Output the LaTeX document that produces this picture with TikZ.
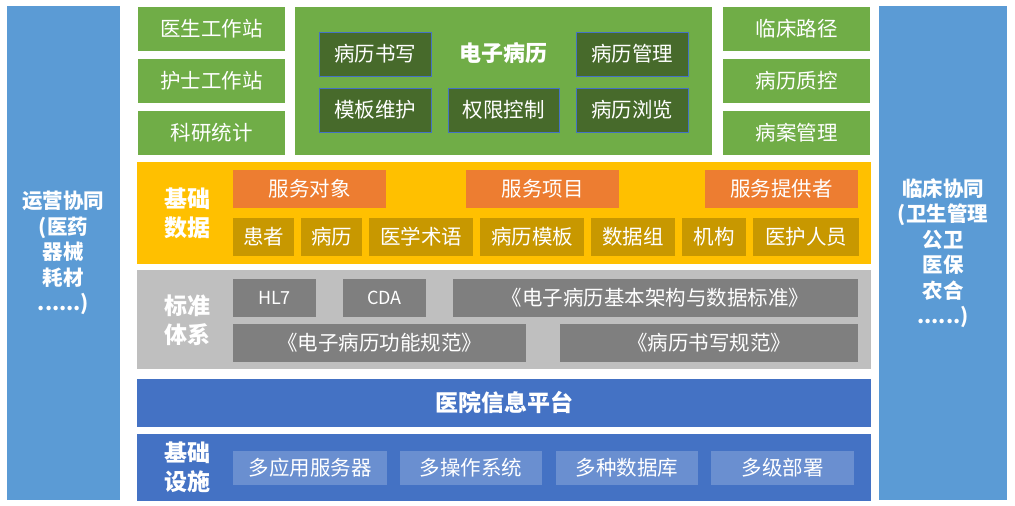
\documentclass[tikz,border=0pt]{standalone}
\usepackage{fontspec}
\setmainfont{Noto Sans CJK SC}
\begin{document}
\begin{tikzpicture}[x=1pt,y=-1pt,
  every node/.style={inner sep=0pt,outer sep=0pt,text=white,align=center},
  bx/.style={rectangle},
  side/.style={fill=sideblue,font=\bfseries\fontsize{20.5}{25.5}\selectfont},
  grn/.style={fill=grn,font=\fontsize{20.5}{24}\selectfont},
  btn/.style={fill=dkgrn,draw=blueline,line width=0.8pt,font=\fontsize{20.5}{24}\selectfont},
  org/.style={fill=orng,font=\fontsize{20.5}{24}\selectfont},
  gld/.style={fill=gold,font=\fontsize{20.5}{24}\selectfont},
  gry/.style={fill=dgray,font=\fontsize{20.5}{24}\selectfont},
  inf/.style={fill=lblue,font=\fontsize{20.5}{24}\selectfont},
  lbl/.style={font=\bfseries\fontsize{23}{29}\selectfont},
]
\definecolor{sideblue}{HTML}{5B9BD5}
\definecolor{grn}{HTML}{70AD47}
\definecolor{dkgrn}{HTML}{476A2B}
\definecolor{blueline}{HTML}{4472C4}
\definecolor{yel}{HTML}{FFC000}
\definecolor{orng}{HTML}{ED7D31}
\definecolor{gold}{HTML}{C89800}
\definecolor{lgray}{HTML}{BFBFBF}
\definecolor{dgray}{HTML}{7F7F7F}
\definecolor{blu}{HTML}{4472C4}
\definecolor{lblue}{HTML}{6A8FD0}
\newcommand{\bx}[7]{\node[bx,#2,minimum width={(#5-#3)*1pt},minimum height={(#6-#4)*1pt}] (#1) at ({(#3+#5)/2},{(#4+#6)/2}) {#7};}
\useasboundingbox (0,0) rectangle (1015,506);
\fill[white] (0,0) rectangle (1015,506);
% sidebars
\bx{left}{side}{7}{6}{120}{500}{运营协同\\(医药\\器械\\耗材\\......)}
\bx{right}{side}{879}{6}{1007}{500}{临床协同\\(卫生管理\\公卫\\医保\\农合\\......)}
% top
\bx{ys}{grn}{138}{7}{285}{51}{医生工作站}
\bx{hs}{grn}{138}{59}{285}{103}{护士工作站}
\bx{ky}{grn}{138}{111}{285}{155}{科研统计}
\bx{emr}{fill=grn}{295}{7}{712}{155}{}
\node[lbl,font=\bfseries\fontsize{22}{26}\selectfont] (emrt) at (503.5,53) {电子病历};
\bx{b1}{btn}{319}{32}{431}{76}{病历书写}
\bx{b3}{btn}{576}{32}{688}{76}{病历管理}
\bx{b4}{btn}{319}{88}{431}{132}{模板维护}
\bx{b5}{btn}{448}{88}{559}{132}{权限控制}
\bx{b6}{btn}{576}{88}{688}{132}{病历浏览}
\bx{lc}{grn}{723}{7}{870}{51}{临床路径}
\bx{zk}{grn}{723}{59}{870}{103}{病历质控}
\bx{ba}{grn}{723}{111}{870}{155}{病案管理}
% basic data
\bx{data}{fill=yel}{137}{162}{871}{264}{}
\node[lbl] (datat) at (187,213) {基础\\数据};
\bx{o1}{org}{233}{170}{386}{208}{服务对象}
\bx{o2}{org}{466}{170}{619}{208}{服务项目}
\bx{o3}{org}{705}{170}{858}{208}{服务提供者}
\bx{g1}{gld}{233}{218}{294}{256}{患者}
\bx{g2}{gld}{301}{218}{362}{256}{病历}
\bx{g3}{gld}{369}{218}{473}{256}{医学术语}
\bx{g4}{gld}{480}{218}{584}{256}{病历模板}
\bx{g5}{gld}{591}{218}{675}{256}{数据组}
\bx{g6}{gld}{682}{218}{746}{256}{机构}
\bx{g7}{gld}{753}{218}{859}{256}{医护人员}
% standards
\bx{std}{fill=lgray}{137}{270}{871}{369}{}
\node[lbl] (stdt) at (187,320) {标准\\体系};
\bx{s1}{gry,font=\fontsize{18}{22}\selectfont}{233}{279}{316}{317}{HL7}
\bx{s2}{gry,font=\fontsize{18}{22}\selectfont}{343}{279}{426}{317}{CDA}
\bx{s3}{gry}{453}{279}{858}{317}{《电子病历基本架构与数据标准》}
\bx{s4}{gry}{233}{324}{526}{362}{《电子病历功能规范》}
\bx{s5}{gry}{560}{324}{858}{362}{《病历书写规范》}
% platform
\bx{plat}{fill=blu,lbl}{137}{379}{871}{427}{医院信息平台}
% infrastructure
\bx{infra}{fill=blu}{137}{434}{871}{501}{}
\node[lbl] (infrat) at (187,467) {基础\\设施};
\bx{i1}{inf}{233}{451}{387}{485}{多应用服务器}
\bx{i2}{inf}{400}{451}{542}{485}{多操作系统}
\bx{i3}{inf}{556}{451}{698}{485}{多种数据库}
\bx{i4}{inf}{711}{451}{854}{485}{多级部署}
\end{tikzpicture}
\end{document}
